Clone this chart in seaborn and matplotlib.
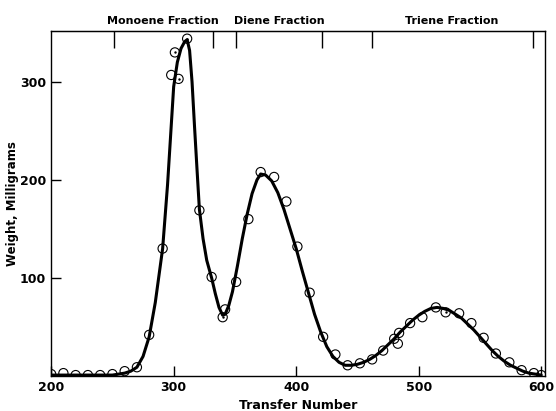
import matplotlib
matplotlib.use("Agg")
import matplotlib.pyplot as plt
import seaborn as sns
import pandas as pd
from matplotlib.transforms import blended_transform_factory

# Measured points (open circles)
transfer_pts = [200, 210, 220, 230, 240, 250, 260, 270, 280, 291, 298, 301, 304, 311,
                321, 331, 340, 342, 351, 361, 371, 382, 392, 401, 411, 422, 432, 442,
                452, 462, 471, 480, 483, 484, 493, 503, 514, 522, 533, 543, 553, 563,
                574, 584, 594, 600]
weight_pts = [2, 3, 1, 1, 1, 2, 5, 9, 42, 130, 307, 330, 303, 344,
              169, 101, 60, 68, 96, 160, 208, 203, 178, 132, 85, 40, 22, 11,
              13, 17, 26, 38, 33, 44, 54, 60, 70, 65, 64, 54, 39, 23,
              14, 6, 3, 1]

# Circles that carry a centre dot
dot_transfer = [301, 304, 311, 340, 522]
dot_weight = [330, 303, 344, 60, 65]

# Hand-drawn smooth curve
transfer_curve = [200, 210, 220, 230, 240, 250, 255, 260, 265, 270, 275, 280, 285, 291,
                  295, 298, 300, 303, 306, 309, 311, 313, 315, 317, 319, 321, 324, 327,
                  331, 334, 337, 340, 342, 345, 348, 352, 356, 360, 364, 368, 371, 375,
                  380, 385, 390, 395, 400, 405, 410, 415, 420, 425, 430, 435, 440, 445,
                  450, 455, 460, 465, 470, 475, 480, 485, 490, 495, 500, 505, 510, 515,
                  520, 525, 530, 535, 540, 545, 550, 555, 560, 565, 570, 575, 580, 585,
                  590, 595, 600]
weight_curve = [1, 1, 1, 1, 1, 1, 2, 3, 5, 9, 20, 40, 75, 130,
                195, 255, 295, 320, 334, 341, 343, 332, 300, 255, 212, 170, 140, 118,
                100, 84, 70, 62, 63, 72, 86, 112, 140, 165, 186, 200, 206, 205,
                199, 187, 170, 150, 130, 107, 85, 63, 45, 30, 20, 14, 11, 11,
                12, 14, 17, 21, 26, 32, 38, 45, 51, 57, 62, 66, 69, 70,
                69, 67, 63, 59, 53, 47, 40, 33, 26, 20, 15, 11, 8, 5,
                3, 2, 1]

# Fraction boundary marks on the top axis
fraction_marks = [251, 332, 351, 421, 462, 593]
fraction_labels = ["Monoene Fraction", "Diene Fraction", "Triene Fraction"]
fraction_label_x = [291, 386, 527]

x_ticks = [200, 300, 400, 500, 600]
y_ticks = [100, 200, 300]

sns.set_style("ticks")
plt.rcParams['font.family'] = ['DejaVu Sans']
plt.rcParams['text.color'] = 'black'
plt.rcParams['axes.labelcolor'] = 'black'

fig = plt.figure(figsize=(5.56, 4.11), dpi=100)
ax = fig.add_axes([0.092, 0.085, 0.888, 0.84])

curve_df = pd.DataFrame({"Transfer": transfer_curve, "Weight": weight_curve})
pts_df = pd.DataFrame({"Transfer": transfer_pts, "Weight": weight_pts})
dot_df = pd.DataFrame({"Transfer": dot_transfer, "Weight": dot_weight})

sns.lineplot(data=curve_df, x="Transfer", y="Weight", ax=ax, color="black",
             linewidth=2.2, sort=False, estimator=None)
sns.scatterplot(data=pts_df, x="Transfer", y="Weight", ax=ax, marker="o",
                s=44, facecolor="none", edgecolor="black", linewidth=0.8, zorder=3)
sns.scatterplot(data=dot_df, x="Transfer", y="Weight", ax=ax, marker="o",
                s=3, color="black", linewidth=0, zorder=4)

ax.set_xlim(200, 603)
ax.set_ylim(0, 352)
ax.set_xticks(x_ticks)
ax.set_yticks(y_ticks)
font = dict(family="DejaVu Sans", weight="bold", color="black")
ax.set_xticklabels([str(t) for t in x_ticks], fontsize=9, **font)
ax.set_yticklabels([str(t) for t in y_ticks], fontsize=9, **font)
ax.tick_params(direction="in", length=7, width=1.0, colors="black")
for s in ax.spines.values():
    s.set_color("black")
    s.set_linewidth(1.0)

ax.set_xlabel("Transfer Number", fontsize=9, labelpad=4, **font)
ax.set_ylabel("Weight, Milligrams", fontsize=8.5, labelpad=1, **font)

top = ax.secondary_xaxis("top")
top.set_ticks(fraction_marks)
top.set_xticklabels([])
top.tick_params(direction="in", length=12, width=1.0, colors="black")

trans = blended_transform_factory(ax.transData, ax.transAxes)
for lbl, xp in zip(fraction_labels, fraction_label_x):
    ax.text(xp, 1.015, lbl, transform=trans, ha="center", va="bottom",
            fontsize=8, **font)

fig.savefig("out.png", dpi=100)
